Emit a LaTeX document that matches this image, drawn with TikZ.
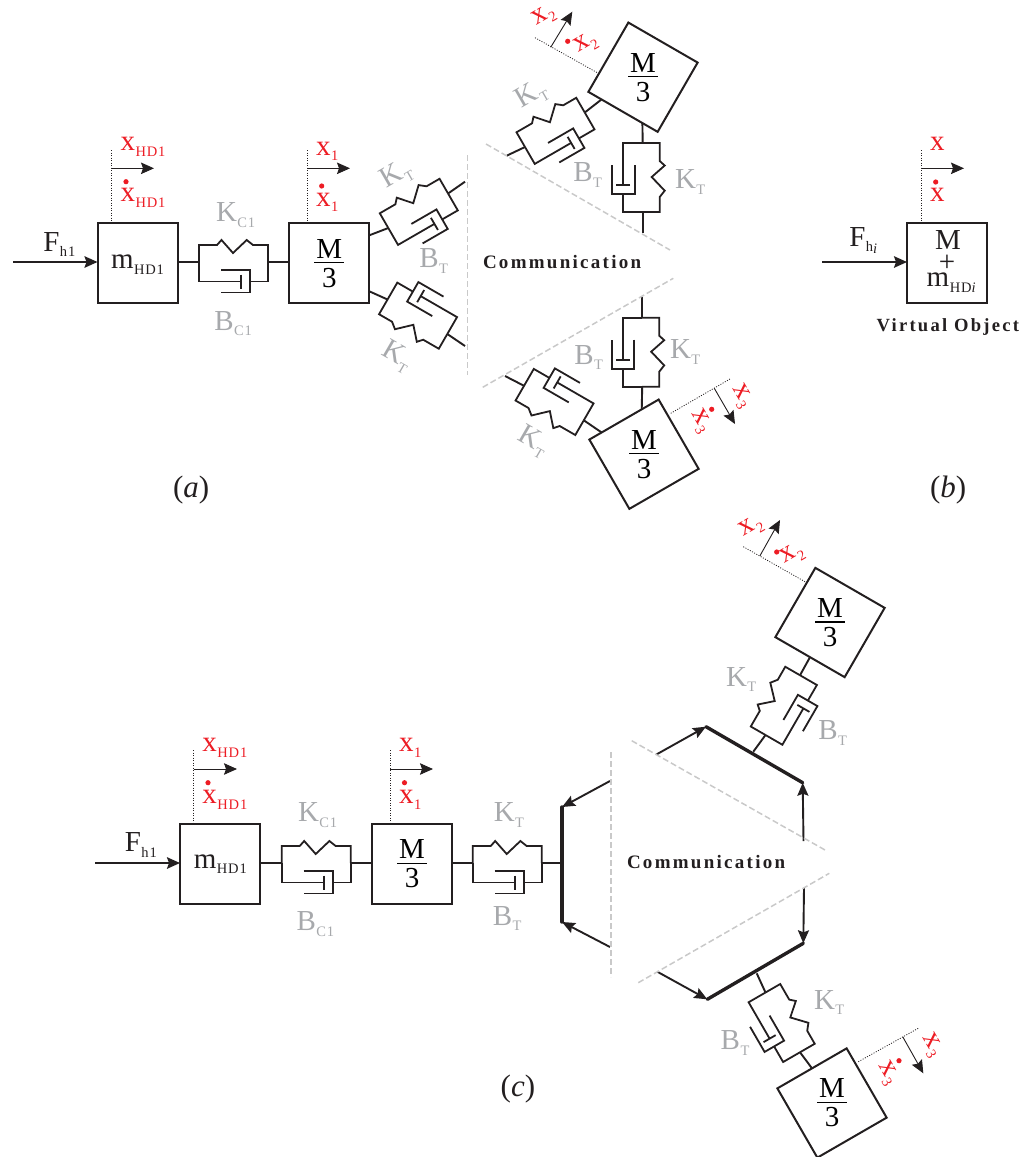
\documentclass[tikz,border=0pt]{standalone}
\usepackage{fontspec}
\setmainfont{Liberation Serif}
\usetikzlibrary{arrows.meta,calc}
\definecolor{ink}{HTML}{231F20}
\definecolor{redx}{HTML}{ED1C24}
\definecolor{grayk}{HTML}{A7A9AC}
\definecolor{dashg}{HTML}{C9C9C9}
\newcommand{\fb}{\fontsize{29}{29}\selectfont}
\newcommand{\fc}{\fontsize{31}{31}\selectfont}
\newcommand{\fs}{\fontsize{14.5}{14.5}\selectfont\addfontfeature{LetterSpace=6}}
\newcommand{\lab}[2]{{\fb #1\hspace{.5pt}\raisebox{-5.7pt}{\fs #2}}}
\newcommand{\mthree}{\vbox{\fb\hsize=30pt\offinterlineskip\hbox to 30pt{\hss M\hss}\kern 4pt\hrule height 1.3pt\kern 4.5pt\hbox to 30pt{\hss 3\hss}}}
\newcommand{\boldl}[2]{{\fontsize{#2}{#2}\selectfont\bfseries\addfontfeature{LetterSpace=12}#1}}
\tikzset{
  massbox/.style={draw=ink,line width=2pt,minimum size=80pt,inner sep=0pt,outer sep=0pt,rectangle},
  unitline/.style={draw=ink,line width=1.8pt,line join=miter},
  lead/.style={draw=ink,line width=1.9pt},
  force/.style={draw=ink,line width=1.9pt,-{Stealth[length=13pt,width=11.5pt,inset=2pt]}},
  motion/.style={draw=ink,line width=.9pt,-{Stealth[length=13pt,width=11.5pt,inset=2pt]}},
  ptr/.style={draw=ink,line width=1.9pt,-{Stealth[length=13pt,width=11pt,inset=2pt]}},
  dots/.style={draw=ink,line width=.8pt,dash pattern=on 1pt off 1.5pt},
  commline/.style={draw=dashg,line width=1.5pt,dash pattern=on 6pt off 3pt},
  bar/.style={draw=ink,line width=3.4pt,line cap=round},
  txt/.style={inner sep=0pt,outer sep=0pt,text=ink,anchor=base west},
  gtxt/.style={txt,text=grayk},
  rtxt/.style={txt,text=redx},
  rot/.style={inner sep=0pt,outer sep=0pt,anchor=center},
  dotx/.style={fill=redx,draw=none},
}
\newcommand{\spdamp}[4]{%
  \begin{scope}[shift={(#2,#3)},rotate=#4]
    \coordinate (#1a) at (0,0);
    \coordinate (#1b) at (69,0);
    \draw[unitline] (0,0)--(0,17)--(18,17)--(22.5,22)--(34,9)--(47.7,22)--(54,17)--(69,17)--(69,0);
    \draw[unitline] (0,0)--(0,-19.5)--(42,-19.5);
    \draw[unitline] (42,-12.5)--(42,-26.5);
    \draw[unitline] (22,-8)--(51,-8)--(51,-30.5)--(22,-30.5);
    \draw[unitline] (51,-19.5)--(69,-19.5)--(69,0);
  \end{scope}}
\begin{document}
\begin{tikzpicture}[x=1pt,y=1pt]
\useasboundingbox (0,0) rectangle (1026,-1157);
% ---------- (a) ----------
\node[massbox] (am) at (137.5,-263.3) {};
\node[massbox] (am1) at (329.3,-263.3) {};
\node[rot] (am1t) at (am1.center) {\mthree};
\node[massbox,rotate=-30] (am2) at (643,-77.2) {};
\node[rot] (am2t) at (am2.center) {\mthree};
\node[massbox,rotate=30] (am3) at (644,-454.2) {};
\node[rot] (am3t) at (am3.center) {\mthree};
\coordinate (fa0) at (13,-262);
\draw[force] (fa0) -- (am.west |- fa0);
\spdamp{ua}{199}{-262}{0}
\draw[lead] (am.east |- uaa) -- (uaa);
\draw[lead] (uab) -- (am1.west |- uab);
\spdamp{ub}{388.3}{-228}{30}
\spdamp{uc}{447.3}{-334}{150}
\coordinate (wb) at (465,-181.7); \coordinate (wc) at (465,-346);
\draw[lead] ($(am1.south east)!.85!(am1.north east)$) -- (uba);
\draw[lead] (ubb) -- (wb);
\draw[lead] ($(am1.south east)!.15!(am1.north east)$) -- (ucb);
\draw[lead] (uca) -- (wc);
\spdamp{ud}{525}{-147}{30}
\coordinate (wd) at (506.7,-155.7);
\draw[lead] (wd) -- (uda);
\draw[lead] (udb) -- ($(am2.south west)!.19!(am2.south east)$);
\spdamp{ue}{642.7}{-143}{-90}
\coordinate (we) at (642.7,-232.7);
\draw[lead] ($(am2.south west)!.78!(am2.south east)$) -- (uea);
\draw[lead] (ueb) -- (we);
\spdamp{uf}{642.2}{-317.7}{-90}
\coordinate (wf) at (642.2,-296.7);
\draw[lead] (wf) -- (ufa);
\draw[lead] (ufb) -- ($(am3.north west)!.756!(am3.north east)$);
\spdamp{ug}{583.8}{-420.3}{150}
\coordinate (wg) at (505,-376);
\draw[lead] (wg) -- (ugb);
\draw[lead] (uga) -- ($(am3.north west)!.177!(am3.north east)$);
% communication lines (a)
\coordinate (t1) at (467.5,-155); \coordinate (t2) at (467.5,-375);
\coordinate (t3) at (486,-144); \coordinate (t4) at (670,-250);
\coordinate (t5) at (482.7,-387.3); \coordinate (t6) at (673.3,-278.3);
\draw[commline] (t1) -- (t2);
\draw[commline] (t3) -- (t4);
\draw[commline] (t5) -- (t6);
\node[txt] (acomm) at (483,-268) {\boldl{Communication}{19}};
% motion indicators (a)
\coordinate (d1a) at (111.7,-150); \coordinate (d1m) at (111.7,-168.3); \coordinate (d1e) at (154,-168.3);
\draw[dots] (d1a) -- (am.north -| d1a);
\draw[motion] (d1m) -- (d1e);
\coordinate (d2a) at (307.7,-150); \coordinate (d2m) at (307.7,-168.3); \coordinate (d2e) at (350,-168.3);
\draw[dots] (d2a) -- (am1.north -| d2a);
\draw[motion] (d2m) -- (d2e);
\coordinate (d3a) at (535,-37.7); \coordinate (d3b) at (598.3,-73.3);
\draw[dots] (d3a) -- (d3b);
\coordinate (d3m) at (550.7,-47.3); \coordinate (d3e) at (572.3,-11.7);
\draw[motion] (d3m) -- (d3e);
\coordinate (d4a) at (670.7,-413.3); \coordinate (d4b) at (730,-379);
\draw[dots] (d4a) -- (d4b);
\coordinate (d4m) at (714.3,-388.3); \coordinate (d4e) at (735,-424);
\draw[motion] (d4m) -- (d4e);
% labels (a)
\node[txt] (a1) at (43.3,-251) {\lab{F}{h1}};
\node[txt] (a2) at (111,-268.3) {\lab{m}{HD1}};
\node[gtxt] (a3) at (216,-221.7) {\lab{K}{C1}};
\node[gtxt] (a4) at (214.3,-330) {\lab{B}{C1}};
\node[rtxt] (a5) at (120.5,-150.7) {\lab{x}{HD1}};
\node[rtxt] (a6) at (120.5,-201.7) {\lab{x}{HD1}};
\fill[dotx] (126,-181.7) circle (2.6pt);
\node[rtxt] (a7) at (316,-155) {\lab{x}{1}};
\node[rtxt] (a8) at (316,-206) {\lab{x}{1}};
\fill[dotx] (321.7,-186) circle (2.6pt);
\node[gtxt,rot,rotate=30] (a9) at (396.7,-175) {\lab{K}{T}};
\node[gtxt] (a10) at (419.3,-267.7) {\lab{B}{T}};
\node[gtxt,rot,rotate=-30] (a11) at (396.7,-356.7) {\lab{K}{T}};
\node[gtxt,rot,rotate=30] (a12) at (531.7,-95) {\lab{K}{T}};
\node[gtxt] (a13) at (573.3,-181.7) {\lab{B}{T}};
\node[gtxt] (a14) at (675,-188.3) {\lab{K}{T}};
\node[gtxt] (a15) at (574.3,-364) {\lab{B}{T}};
\node[gtxt] (a16) at (670,-358.3) {\lab{K}{T}};
\node[gtxt,rot,rotate=-30] (a17) at (533.3,-441.7) {\lab{K}{T}};
\node[rtxt,rot,rotate=30] (a18) at (544,-16.7) {\lab{x}{2}};
\node[rtxt,rot,rotate=30] (a19) at (586,-44) {\lab{x}{2}};
\fill[dotx] (567.7,-41.3) circle (2.6pt);
\node[rtxt,rot,rotate=-60] (a20) at (741.7,-396.7) {\lab{x}{3}};
\node[rtxt,rot,rotate=-60] (a21) at (700.7,-421.7) {\lab{x}{3}};
\fill[dotx] (711.7,-409.3) circle (2.6pt);
\node[txt] (a22) at (173,-497) {\fc(\textit{a})};
% ---------- (b) ----------
\node[massbox] (bm) at (947,-263.3) {};
\coordinate (fb0) at (822,-262);
\draw[force] (fb0) -- (bm.west |- fb0);
\coordinate (d5a) at (921,-150); \coordinate (d5m) at (921,-168.3); \coordinate (d5e) at (964,-168.3);
\draw[dots] (d5a) -- (bm.north -| d5a);
\draw[motion] (d5m) -- (d5e);
\node[txt] (b1) at (849.3,-246) {\lab{F}{h\raisebox{-2pt}{\itshape i}}};
\node[txt,anchor=base] (b2) at (948,-249.3) {\fb M};
\node[txt,anchor=center] (b3) at (947,-263.3) {\fb +};
\node[txt] (b4) at (926.7,-286.7) {\lab{m}{HD\itshape i}};
\node[rtxt] (b5) at (930,-150.7) {\fb x};
\node[rtxt] (b6) at (930,-201.7) {\fb x};
\fill[dotx] (935.7,-182) circle (2.6pt);
\node[txt] (b7) at (876.7,-331.7) {\boldl{Virtual Object}{18.6}};
\node[txt] (b8) at (930,-497) {\fc(\textit{b})};
% ---------- (c) ----------
\node[massbox] (cm) at (220,-864) {};
\node[massbox] (cm1) at (412,-864) {};
\node[rot] (cm1t) at (cm1.center) {\mthree};
\node[massbox,rotate=-30] (cm2) at (830,-622.5) {};
\node[rot] (cm2t) at (cm2.center) {\mthree};
\node[massbox,rotate=30] (cm3) at (832,-1103) {};
\node[rot] (cm3t) at (cm3.center) {\mthree};
\coordinate (fc0) at (95,-863);
\draw[force] (fc0) -- (cm.west |- fc0);
\spdamp{va}{281.7}{-863}{0}
\draw[lead] (cm.east |- vaa) -- (vaa);
\draw[lead] (vab) -- (cm1.west |- vab);
\spdamp{vb}{472.7}{-863}{0}
\draw[lead] (cm1.east |- vba) -- (vba);
% bars and arrows
\coordinate (b1t) at (562,-807); \coordinate (b1b) at (562,-922);
\draw[bar] (b1t) -- (b1b);
\draw[lead] (vbb) -- (b1t |- vbb);
\coordinate (b1u) at (610,-781); \coordinate (b1v) at (610,-947);
\draw[ptr] (b1u) -- (b1t);
\draw[ptr] (b1v) -- (b1b);
\coordinate (b2l) at (706,-726.7); \coordinate (b2r) at (802.7,-782.7);
\draw[bar] (b2l) -- (b2r);
\coordinate (b2u) at (656.7,-754.3); \coordinate (b2v) at (803.5,-841);
\draw[ptr] (b2u) -- (b2l);
\draw[ptr] (b2v) -- (b2r);
\coordinate (b3l) at (707.3,-999.3); \coordinate (b3r) at (803.3,-943.3);
\draw[bar] (b3l) -- (b3r);
\coordinate (b3u) at (657.3,-971.7); \coordinate (b3v) at (804,-888);
\draw[ptr] (b3u) -- (b3l);
\draw[ptr] (b3v) -- (b3r);
% upper and lower units
\spdamp{vc}{765.5}{-735}{60}
\coordinate (wvc) at (753.3,-751.7);
\draw[lead] (wvc) -- (vca);
\draw[lead] (vcb) -- (cm2.south);
\spdamp{vd}{765.5}{-992.5}{-60}
\coordinate (wvd) at (756.7,-973.3);
\draw[lead] (wvd) -- (vda);
\draw[lead] (vdb) -- (cm3.north);
% communication lines (c)
\coordinate (s1) at (611,-752); \coordinate (s2) at (611,-977);
\coordinate (s3) at (631.7,-740.7); \coordinate (s4) at (825,-850);
\coordinate (s5) at (638.3,-982.7); \coordinate (s6) at (829.3,-873.3);
\draw[commline] (s1) -- (s2);
\draw[commline] (s3) -- (s4);
\draw[commline] (s5) -- (s6);
\node[txt] (ccomm) at (627,-868) {\boldl{Communication}{19}};
% motion indicators (c)
\coordinate (e1a) at (193.8,-750); \coordinate (e1m) at (193.8,-769); \coordinate (e1e) at (237,-769);
\draw[dots] (e1a) -- (cm.north -| e1a);
\draw[motion] (e1m) -- (e1e);
\coordinate (e2a) at (390.3,-750); \coordinate (e2m) at (390.3,-769); \coordinate (e2e) at (433,-769);
\draw[dots] (e2a) -- (cm1.north -| e2a);
\draw[motion] (e2m) -- (e2e);
\coordinate (e3a) at (743.3,-546.7); \coordinate (e3b) at (805,-581.7);
\draw[dots] (e3a) -- (e3b);
\coordinate (e3m) at (760,-555.7); \coordinate (e3e) at (780,-520);
\draw[motion] (e3m) -- (e3e);
\coordinate (e4a) at (858.3,-1061.7); \coordinate (e4b) at (919.3,-1027.7);
\draw[dots] (e4a) -- (e4b);
\coordinate (e4m) at (902.7,-1036.7); \coordinate (e4e) at (923.3,-1073.3);
\draw[motion] (e4m) -- (e4e);
% labels (c)
\node[txt] (c1) at (124.8,-851.7) {\lab{F}{h1}};
\node[txt] (c2) at (193.8,-868) {\lab{m}{HD1}};
\node[gtxt] (c3) at (298,-821.7) {\lab{K}{C1}};
\node[gtxt] (c4) at (296.5,-930.7) {\lab{B}{C1}};
\node[gtxt] (c5) at (493.8,-821.7) {\lab{K}{T}};
\node[gtxt] (c6) at (492.8,-925) {\lab{B}{T}};
\node[rtxt] (c7) at (202.4,-751.7) {\lab{x}{HD1}};
\node[rtxt] (c8) at (202.4,-803.3) {\lab{x}{HD1}};
\fill[dotx] (208,-782.7) circle (2.6pt);
\node[rtxt] (c9) at (399,-751.7) {\lab{x}{1}};
\node[rtxt] (c10) at (399,-803.3) {\lab{x}{1}};
\fill[dotx] (404.5,-782.7) circle (2.6pt);
\node[gtxt] (c11) at (726,-686) {\lab{K}{T}};
\node[gtxt] (c12) at (818.3,-739.3) {\lab{B}{T}};
\node[gtxt] (c13) at (814,-1009) {\lab{K}{T}};
\node[gtxt] (c14) at (720.7,-1049.3) {\lab{B}{T}};
\node[rtxt,rot,rotate=30] (c15) at (751.7,-527.3) {\lab{x}{2}};
\node[rtxt,rot,rotate=30] (c16) at (792.7,-555) {\lab{x}{2}};
\fill[dotx] (776.7,-552) circle (2.6pt);
\node[rtxt,rot,rotate=-60] (c17) at (931.7,-1045) {\lab{x}{3}};
\node[rtxt,rot,rotate=-60] (c18) at (887.3,-1073.3) {\lab{x}{3}};
\fill[dotx] (899,-1060.7) circle (2.6pt);
\node[txt] (c19) at (500.7,-1096.7) {\fc(\textit{c})};
\end{tikzpicture}
\end{document}
